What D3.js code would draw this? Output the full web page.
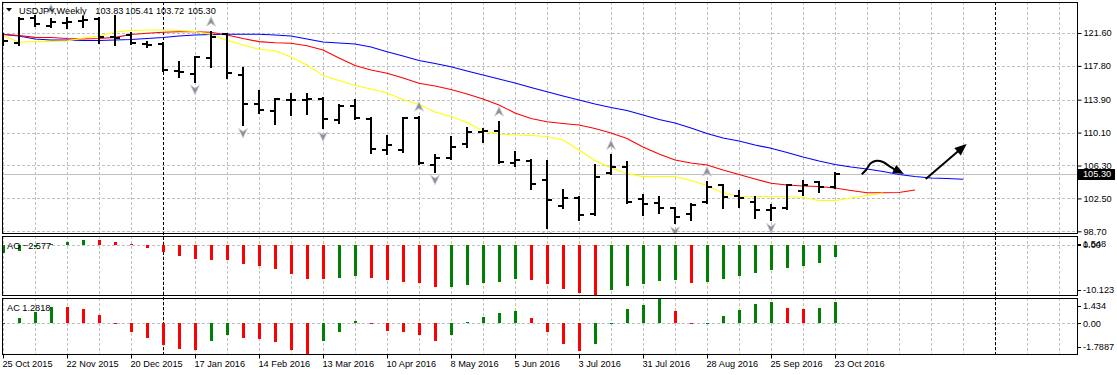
<!DOCTYPE html>
<html><head><meta charset="utf-8">
<script src="https://cdn.jsdelivr.net/npm/d3@7"></script>
<style>
body{margin:0;background:#fff}
svg{display:block}
text{font-family:"Liberation Sans",Arial,sans-serif;font-size:9.2px;fill:#000}
</style>
</head><body>
<svg id="c" width="1117" height="375"></svg>
<script>
// ---------- DATA ----------
const tickLabels = ["25 Oct 2015","22 Nov 2015","20 Dec 2015","17 Jan 2016","14 Feb 2016","13 Mar 2016","10 Apr 2016","8 May 2016","5 Jun 2016","3 Jul 2016","31 Jul 2016","28 Aug 2016","25 Sep 2016","23 Oct 2016"];
const tickIdx = [0,4,8,12,16,20,24,28,32,36,40,44,48,52];
const priceTicks = [121.60,117.80,113.90,110.10,106.30,102.50,98.70];
const opens  = [121.40,120.41,123.30,122.41,122.75,122.95,123.22,121.15,121.37,120.32,120.30,117.20,116.87,118.68,121.45,116.75,113.37,112.63,113.90,113.86,113.98,111.55,113.20,111.67,108.09,108.09,111.75,106.36,107.13,108.75,110.20,110.32,106.60,106.82,104.62,101.62,102.51,100.70,105.40,106.07,102.40,101.93,101.36,100.66,102.12,104.05,102.78,102.12,101.16,101.36,103.39,104.36,103.83];
const highs  = [121.49,123.30,123.56,123.18,123.30,123.48,123.30,123.56,121.57,120.60,120.41,118.29,118.79,121.75,121.54,117.52,114.90,113.94,114.52,114.52,114.13,113.29,113.86,111.75,109.71,111.78,111.93,107.51,109.56,110.60,110.51,111.36,107.89,106.90,106.82,103.47,102.70,106.36,107.51,106.74,102.89,102.70,101.43,101.82,104.43,104.08,103.39,102.70,101.74,104.10,104.54,104.43,105.41];
const lows   = [120.21,120.21,122.41,122.33,122.21,122.33,120.48,120.21,120.30,119.95,117.21,116.48,115.98,117.71,116.37,110.98,112.33,111.06,112.13,112.21,110.59,111.17,111.63,107.71,107.59,107.89,106.50,105.58,107.02,108.47,109.05,106.62,106.24,103.55,99.05,101.36,100.01,100.58,105.32,101.93,100.58,100.78,99.62,100.01,101.93,101.36,101.54,100.20,100.01,101.30,102.89,103.27,103.72];
const closes = [120.71,123.22,122.64,122.90,122.82,123.05,121.10,121.05,120.41,120.25,117.29,117.05,118.79,121.10,116.98,113.37,112.71,113.94,113.84,113.95,111.63,113.20,111.75,108.17,108.67,111.75,106.60,107.13,108.47,110.13,110.30,106.67,106.93,104.16,102.31,102.51,100.58,104.94,106.07,102.08,101.85,101.36,100.39,101.74,103.85,102.70,102.51,101.16,101.36,104.05,104.05,103.85,105.30];
// Alligator (drawn with forward shift, so longer than price data)
const jaw   = [121.43,121.25,120.91,120.79,120.79,120.73,120.73,120.79,120.85,120.96,121.08,121.25,121.37,121.43,121.45,121.45,121.45,121.37,121.25,120.91,120.56,120.45,120.33,119.98,119.44,118.94,118.42,118.08,117.71,117.21,116.75,116.29,115.83,115.31,114.82,114.32,113.86,113.40,112.99,112.65,112.13,111.61,111.20,110.63,109.99,109.47,109.13,108.67,108.29,107.80,107.28,106.82,106.42,106.13,105.89,105.61,105.26,105.03,104.86,104.80,104.71];
const teeth = [121.45,121.31,121.10,121.08,120.96,120.91,120.96,121.10,121.43,121.57,121.68,121.75,121.75,121.68,121.37,120.96,120.60,120.48,120.41,120.13,119.64,118.71,117.85,117.33,116.95,116.40,115.79,115.48,115.08,114.56,113.98,113.29,112.36,111.73,111.36,111.15,110.98,110.57,110.05,109.42,108.44,107.63,106.94,106.59,106.36,105.78,105.26,104.74,104.24,104.05,103.93,103.87,103.70,103.41,103.16,103.16,103.18,103.47];
const lips  = [121.25,120.56,120.60,120.60,120.68,121.02,121.25,121.72,121.89,121.95,121.95,121.89,121.77,121.43,120.75,120.22,119.72,119.55,118.83,117.90,116.68,116.11,115.54,115.13,114.67,113.92,113.34,112.48,111.96,111.26,110.28,109.94,109.82,109.76,109.64,109.24,108.09,106.88,106.01,105.38,105.01,105.03,105.03,104.57,103.99,103.12,102.74,102.72,102.72,102.72,102.60,102.26,102.26,102.55,102.84,103.12];
const ao = [-1.6,-1.2,-0.5,0.1,0.55,0.97,0.93,0.55,0.12,-0.6,-1.4,-2.3,-2.96,-3.05,-3.1,-3.9,-4.34,-4.96,-5.99,-7.02,-7.05,-6.75,-6.34,-6.75,-7.23,-7.64,-7.78,-8.65,-8.55,-8.2,-7.78,-7.58,-7.02,-7.23,-8.06,-9.09,-9.85,-10.123,-9.3,-8.4,-8.06,-7.44,-7.23,-7.78,-7.58,-7.02,-6.34,-5.72,-5.1,-4.82,-4.27,-3.65,-2.577];
const ac = [0.0,0.31,0.70,0.99,0.97,0.85,0.5,-0.04,-0.52,-0.85,-1.24,-1.47,-1.55,-1.04,-0.66,-0.85,-0.91,-1.1,-1.53,-1.7887,-1.04,-0.52,0.17,0.02,-0.42,-0.52,-0.66,-1.04,-0.66,0.06,0.37,0.6,0.74,0.31,-0.52,-1.18,-1.6,-1.18,0.02,0.85,1.09,1.434,0.76,0.02,0.03,0.41,0.8,1.15,1.25,0.89,0.87,0.9,1.2818];
const fractalUp = [3,13,26,31,38,44];
const fractalDown = [12,15,20,27,34,42,48];
const periodSeparators = [10,62];
const aoRange = [-10.123,1.548];
const acRange = [-1.7887,1.434];
const lastPrice = 105.30;
const title = ["USDJPY,Weekly","103.83","105.41","103.72","105.30"];
// hand-drawn annotation arrows (bar index, price)
const curveArrow = [[53.67,105.28],[53.94,105.78],[54.25,106.58],[54.6,106.85],[55.0,106.70],[55.44,106.16],[55.88,105.66],[56.31,105.32]];
const straightArrow = [[57.67,104.74],[60.23,108.78]];

// ---------- LAYOUT ----------
const svg = d3.select("#c");
const L = 2, R = 1077;
const main = {t:2, b:233}, aoP = {t:236, b:295}, acP = {t:298, b:354};
const x = d3.scaleLinear().domain([0,67.125]).range([3,1077]);
const y = d3.scaleLinear().domain([98.70,121.60]).range([231.3,33]);
const yAO = d3.scaleLinear().domain(aoRange).range([294.5,237]);
const yAC = d3.scaleLinear().domain(acRange).range([354,299]);

const defs = svg.append("defs");
defs.append("clipPath").attr("id","cm").append("rect").attr("x",L).attr("y",main.t).attr("width",R-L).attr("height",main.b-main.t);

const grid = "#c0c0c0";
const gg = svg.append("g").attr("shape-rendering","crispEdges");
// vertical grid
[main,aoP,acP].forEach(p=>{
  d3.range(0,34).forEach(k=>{
    const gx = Math.round(x(2*k))+0.5;
    if (gx>R) return;
    gg.append("line").attr("x1",gx).attr("x2",gx).attr("y1",p.t).attr("y2",p.b)
      .attr("stroke",grid).attr("stroke-dasharray","3,2").attr("stroke-width",1);
  });
});
// horizontal grid main
priceTicks.forEach(v=>{
  const gy = Math.round(y(v))+0.5;
  gg.append("line").attr("x1",L).attr("x2",R).attr("y1",gy).attr("y2",gy)
    .attr("stroke",grid).attr("stroke-dasharray","3,2");
});
// zero lines
[yAO(0),yAC(0)].forEach(gy=>{
  gy = Math.round(gy)+0.5;
  gg.append("line").attr("x1",L).attr("x2",R).attr("y1",gy).attr("y2",gy)
    .attr("stroke",grid).attr("stroke-dasharray","3,2");
});
// last price line
gg.append("line").attr("x1",L).attr("x2",R).attr("y1",Math.round(y(lastPrice))+0.5).attr("y2",Math.round(y(lastPrice))+0.5).attr("stroke","#c0c0c0");

// period separators
periodSeparators.forEach(i=>{
  const sx = Math.round(x(i))+0.5;
  gg.append("line").attr("x1",sx).attr("x2",sx).attr("y1",main.t).attr("y2",acP.b)
    .attr("stroke","#000").attr("stroke-dasharray","3,2");
});

const gm = svg.append("g").attr("clip-path","url(#cm)");
// alligator
const line = d3.line().x((d,i)=>x(i)).y(d=>y(d));
[[jaw,"#0000ff"],[teeth,"#ff0000"],[lips,"#ffff00"]].forEach(([arr,c])=>{
  gm.append("path").attr("d",line(arr)).attr("fill","none").attr("stroke",c).attr("stroke-width",1.1);
});
// OHLC bars
const bars = gm.append("g").attr("stroke","#000").attr("stroke-width",2).attr("shape-rendering","crispEdges");
opens.forEach((o,i)=>{
  const bx = Math.round(x(i));
  bars.append("line").attr("x1",bx).attr("x2",bx).attr("y1",Math.round(y(highs[i]))-1).attr("y2",Math.round(y(lows[i]))+1);
  bars.append("line").attr("x1",bx-5).attr("x2",bx).attr("y1",Math.round(y(o))).attr("y2",Math.round(y(o)));
  bars.append("line").attr("x1",bx).attr("x2",bx+5).attr("y1",Math.round(y(closes[i]))).attr("y2",Math.round(y(closes[i])));
});
// fractals
const upPath = "M0,-5 L4.5,4.5 L0,1.5 L-4.5,4.5 Z";
fractalUp.forEach(i=>{
  gm.append("path").attr("d",upPath).attr("transform",`translate(${x(i)},${y(highs[i])-10})`)
    .attr("fill","#909090").attr("stroke","#c8d0e0").attr("stroke-width",0.8);
});
fractalDown.forEach(i=>{
  gm.append("path").attr("d",upPath).attr("transform",`translate(${x(i)},${y(lows[i])+8}) scale(1,-1)`)
    .attr("fill","#909090").attr("stroke","#c8d0e0").attr("stroke-width",0.8);
});
// annotation arrows
const cl = d3.line().x(d=>x(d[0])).y(d=>y(d[1])).curve(d3.curveCatmullRom);
gm.append("path").attr("d",cl(curveArrow.slice(0,-1))).attr("fill","none").attr("stroke","#000").attr("stroke-width",2);
function head(p0,p1,len,w){
  const x0=x(p0[0]),y0=y(p0[1]),x1=x(p1[0]),y1=y(p1[1]);
  const a=Math.atan2(y1-y0,x1-x0);
  const bx=x1-len*Math.cos(a), by=y1-len*Math.sin(a);
  const nx=-Math.sin(a)*w/2, ny=Math.cos(a)*w/2;
  return `M${x1},${y1}L${bx+nx},${by+ny}L${bx-nx},${by-ny}Z`;
}
const cn = curveArrow.length;
gm.append("path").attr("d",head(curveArrow[cn-3],curveArrow[cn-1],11,9)).attr("fill","#000");
gm.append("line").attr("x1",x(straightArrow[0][0])).attr("y1",y(straightArrow[0][1]))
  .attr("x2",x(straightArrow[1][0])-6).attr("y2",y(straightArrow[1][1])+5).attr("stroke","#000").attr("stroke-width",2);
gm.append("path").attr("d",head(straightArrow[0],straightArrow[1],12,10)).attr("fill","#000");

// AO / AC histograms
const gh = svg.append("g").attr("shape-rendering","crispEdges");
function hist(vals, ys){
  vals.forEach((v,i)=>{
    const up = i===0 ? true : v>=vals[i-1];
    const y0 = Math.round(ys(0)), y1 = Math.round(ys(v));
    const top = Math.min(y0,y1), h = Math.max(1,Math.abs(y1-y0));
    gh.append("rect").attr("x",Math.round(x(i))-1).attr("y",top).attr("width",3).attr("height",h)
      .attr("fill", up ? "#008000" : "#ff0000");
  });
}
hist(ao,yAO);
hist(ac,yAC);

// frames
const gf = svg.append("g").attr("shape-rendering","crispEdges");
[main,aoP,acP].forEach(p=>{
  gf.append("rect").attr("x",L+0.5).attr("y",p.t+0.5).attr("width",R-L).attr("height",p.b-p.t)
    .attr("fill","none").attr("stroke","#000").attr("stroke-width",1);
});

// price axis
const ax = svg.append("g").attr("transform",`translate(${R+0.5},0)`)
  .call(d3.axisRight(y).tickValues(priceTicks).tickSize(4).tickPadding(2).tickFormat(d3.format(".2f")));
ax.select(".domain").remove();
ax.selectAll("text").attr("font-size",null).attr("font-family",null);
ax.selectAll("line").attr("stroke","#000");
// current price label
const ly = y(lastPrice);
svg.append("rect").attr("x",1078).attr("y",Math.round(ly)-5).attr("width",37).attr("height",11).attr("fill","#000");
svg.append("text").attr("x",1083).attr("y",ly).attr("dy","0.35em").style("fill","#fff").text(d3.format(".2f")(lastPrice));

// sub-window scale labels
function sublab(txt,yy){
  svg.append("line").attr("x1",R).attr("x2",R+4).attr("y1",Math.round(yy)+0.5).attr("y2",Math.round(yy)+0.5).attr("stroke","#000");
  svg.append("text").attr("x",1083).attr("y",yy).attr("dy","0.35em").text(txt);
}
sublab("1.548", yAO(aoRange[1])+6.5);
sublab("0.00", yAO(0)+0.5);
sublab("-10.123", yAO(aoRange[0])-5);
sublab("1.434", yAC(acRange[1])+7);
sublab("0.00", yAC(0));
sublab("-1.7887", yAC(acRange[0])-7);

// time axis
const tx = svg.append("g").attr("transform",`translate(0,${acP.b+0.5})`)
  .call(d3.axisBottom(x).tickValues(tickIdx).tickSize(4).tickPadding(2).tickFormat((d,i)=>tickLabels[i]));
tx.select(".domain").remove();
tx.selectAll("text").attr("text-anchor","start").attr("font-size",null).attr("font-family",null).attr("dx","-1");
tx.selectAll("line").attr("stroke","#000");

// title + indicator names
svg.append("path").attr("d","M6,8 L12,8 L9,11.5 Z").attr("fill","#000");
const tpos = [19,95.3,125.3,156,187.7];
title.forEach((t,k)=>svg.append("text").attr("x",tpos[k]).attr("y",10.5).attr("dy","0.35em").text(t));
svg.append("text").attr("x",7).attr("y",246).attr("dy","0.35em").text("AO " + d3.format(".3f")(ao[ao.length-1]));
svg.append("text").attr("x",7).attr("y",307.7).attr("dy","0.35em").text("AC " + d3.format(".4f")(ac[ac.length-1]));
</script>
</body></html>
